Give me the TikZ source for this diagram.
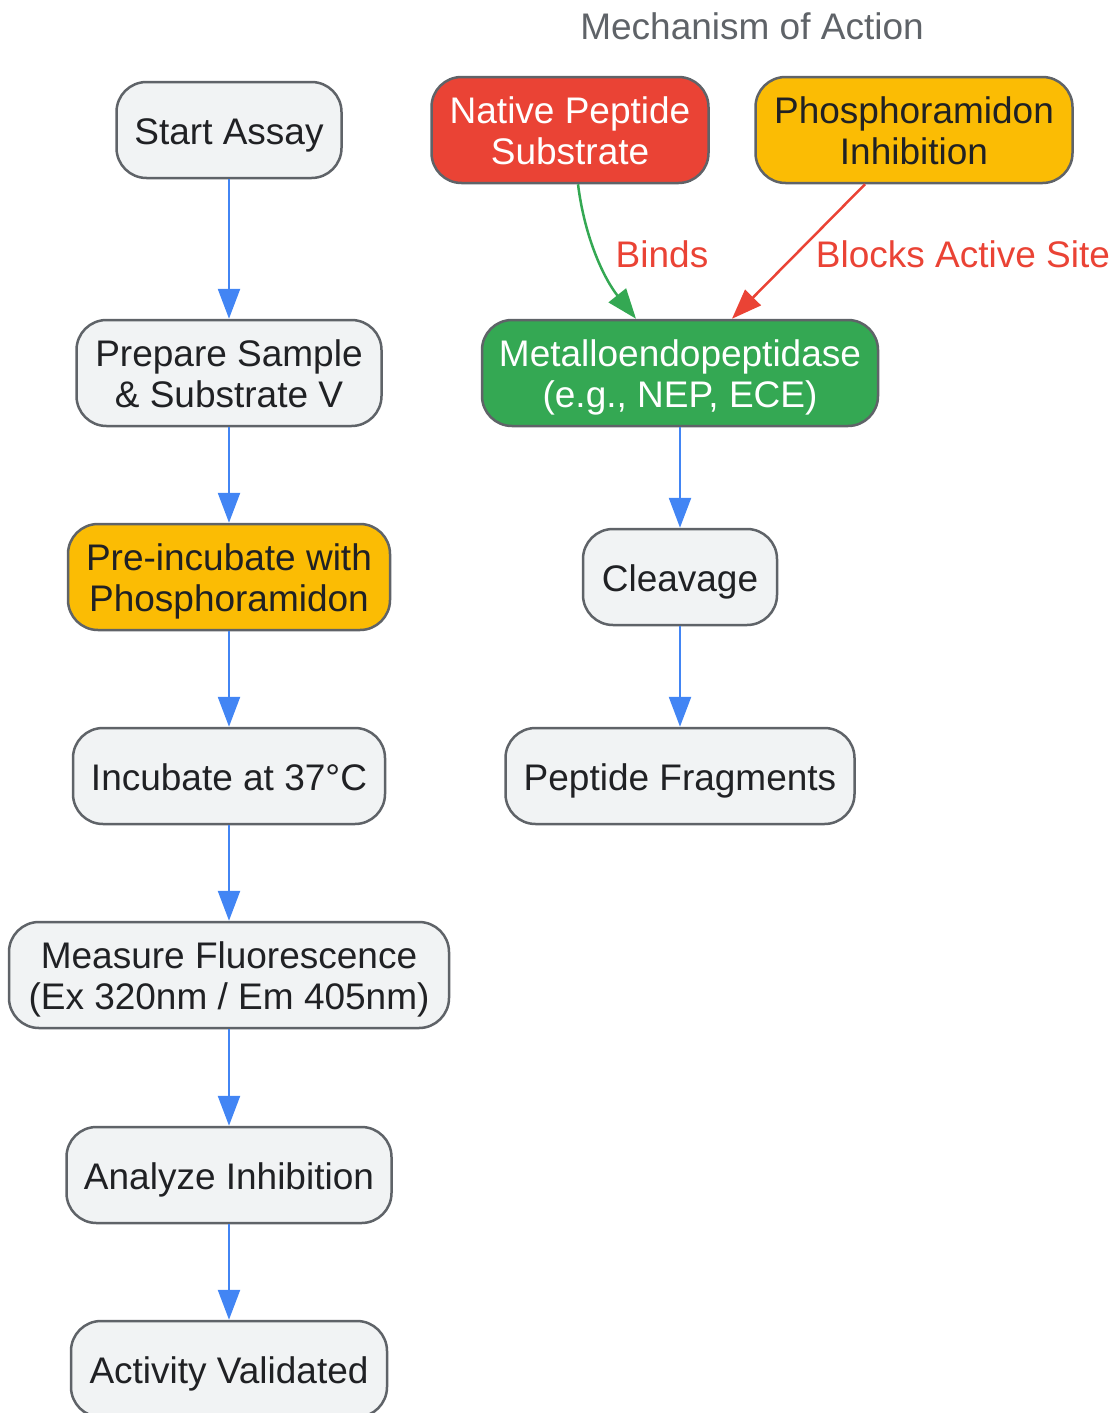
\documentclass[tikz,border=0pt]{standalone}
\usepackage{fontspec}
\setmainfont{Liberation Sans}
\usetikzlibrary{arrows.meta}
\definecolor{nodefill}{HTML}{F1F3F4}
\definecolor{nodeborder}{HTML}{5F6368}
\definecolor{txt}{HTML}{202124}
\definecolor{gred}{HTML}{EA4335}
\definecolor{gyellow}{HTML}{FBBC04}
\definecolor{ggreen}{HTML}{34A853}
\definecolor{gblue}{HTML}{4285F4}
\newcommand{\onestrut}{\rule[-10pt]{0pt}{49pt}}
\newcommand{\topstrut}{\rule{0pt}{38pt}}
\newcommand{\botstrut}{\rule[-10pt]{0pt}{10pt}}
\begin{document}
\begin{tikzpicture}[x=1pt,y=-1pt,
  box/.style={draw=nodeborder,line width=2.5pt,rounded corners=30pt,fill=nodefill,text=txt,
    font=\fontsize{37}{41}\selectfont,align=center,inner sep=0pt},
  flow/.style={draw=gblue,line width=2.5pt,-{Triangle[length=30pt,width=22pt]}},
  lbl/.style={text=gred,font=\fontsize{37}{41}\selectfont,inner sep=0pt}]
\useasboundingbox (0,0) rectangle (1113,1413);
\node[box,minimum width=225pt,minimum height=96pt] (start) at (229,130) {\onestrut Start Assay};
\node[box,minimum width=305pt,minimum height=106pt] (prep) at (229,373) {\topstrut Prepare Sample\\\& Substrate V\botstrut};
\node[box,fill=gyellow,minimum width=322pt,minimum height=106pt] (pre) at (229,577) {\topstrut Pre-incubate with\\Phosphoramidon\botstrut};
\node[box,minimum width=312pt,minimum height=96pt] (inc) at (229,776) {\onestrut Incubate at 37°C};
\node[box,minimum width=440pt,minimum height=106pt] (meas) at (229,975) {\topstrut Measure Fluorescence\\(Ex 320nm / Em 405nm)\botstrut};
\node[box,minimum width=325pt,minimum height=96pt] (ana) at (229,1175) {\onestrut Analyze Inhibition};
\node[box,minimum width=316pt,minimum height=96pt] (val) at (229,1369) {\onestrut Activity Validated};

\node[text=nodeborder,font=\fontsize{37}{41}\selectfont,inner sep=0pt] (title) at (752,26) {Mechanism of Action};
\node[box,fill=gred,text=white,minimum width=277pt,minimum height=106pt] (nat) at (570,130) {\topstrut Native Peptide\\Substrate\botstrut};
\node[box,fill=gyellow,minimum width=317pt,minimum height=106pt] (pho) at (914,130) {\topstrut Phosphoramidon\\Inhibition\botstrut};
\node[box,fill=ggreen,text=white,minimum width=396pt,minimum height=106pt] (met) at (680,373) {\topstrut Metalloendopeptidase\\(e.g., NEP, ECE)\botstrut};
\node[box,minimum width=194pt,minimum height=96pt] (clv) at (680,577) {\onestrut Cleavage};
\node[box,minimum width=349pt,minimum height=96pt] (frag) at (680,776) {\onestrut Peptide Fragments};

\draw[flow] (start) -- (prep);
\draw[flow] (prep) -- (pre);
\draw[flow] (pre) -- (inc);
\draw[flow] (inc) -- (meas);
\draw[flow] (meas) -- (ana);
\draw[flow] (ana) -- (val);
\draw[flow] (met) -- (clv);
\draw[flow] (clv) -- (frag);

\draw[draw=ggreen,line width=2.5pt,-{Triangle[length=30pt,width=22pt]}]
  (nat.south -| 578,0) .. controls (585,240) and (605,280) .. (met.north -| 636,0);
\draw[draw=gred,line width=2.5pt,-{Triangle[length=30pt,width=22pt]}]
  (pho.south -| 865,0) -- (met.north -| 732,0);
\node[lbl] (binds) at (662,254) {Binds};
\node[lbl] (blocks) at (963,254) {Blocks Active Site};
\end{tikzpicture}
\end{document}
